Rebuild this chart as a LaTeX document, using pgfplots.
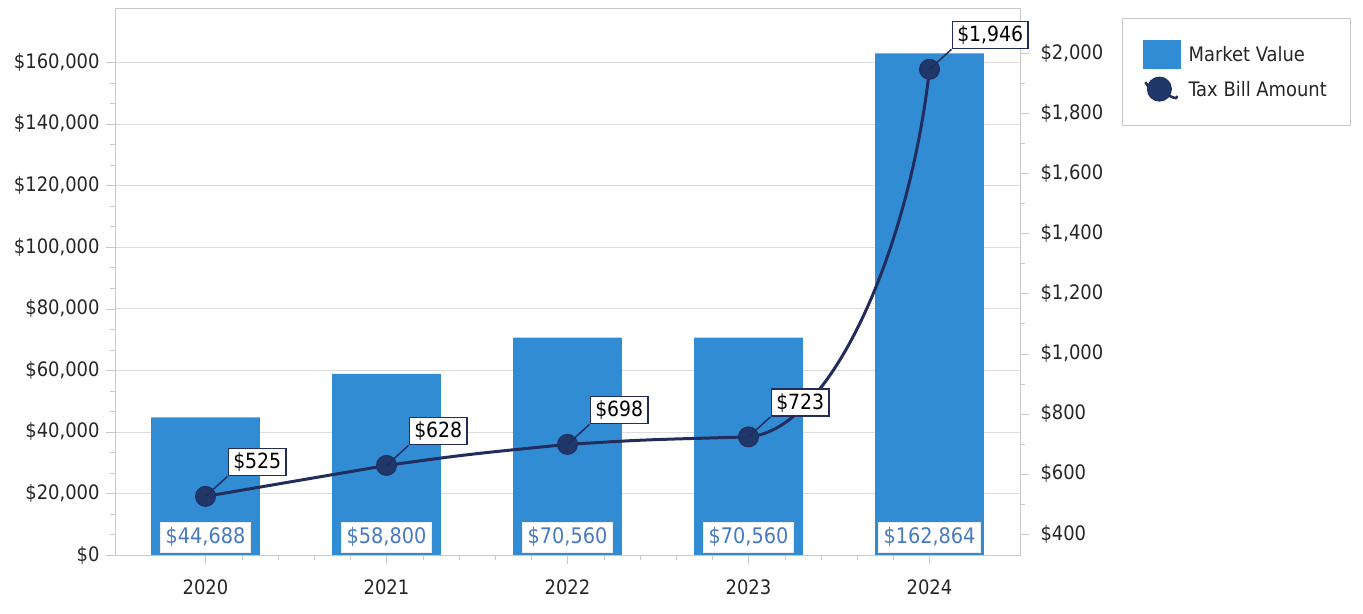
\documentclass[border=0pt]{standalone}
\usepackage{fontspec}
\setmainfont{DejaVu Sans Condensed}
\usepackage{pgfplots}
\pgfplotsset{compat=1.18}
\definecolor{barblue}{RGB}{50,140,212}
\definecolor{navy}{RGB}{33,45,92}
\definecolor{markfill}{RGB}{32,55,105}
\definecolor{lblblue}{RGB}{72,122,196}
\definecolor{gridgray}{RGB}{220,220,220}
\definecolor{axisgray}{RGB}{200,200,200}
\makeatletter
% curve handler: straight where the slope is steady, bending up where it jumps
\def\excel@none{none}
\def\pgfplothandlerexcel{%
  \def\pgf@plotstreamstart{%
    \global\let\pgf@plotstreampoint=\excel@first
    \global\let\pgf@plotstreamspecial=\pgfutil@gobble
    \global\let\pgf@plotstreamend=\relax
  }%
}
\def\excel@first#1{%
  \pgf@process{#1}%
  \xdef\excel@ax{\pgf@sys@tonumber\pgf@x}%
  \xdef\excel@ay{\pgf@sys@tonumber\pgf@y}%
  \gdef\excel@sp{none}%
  \pgf@plot@first@action{\pgfqpoint{\excel@ax pt}{\excel@ay pt}}%
  \global\let\pgf@plotstreampoint=\excel@next
}
\def\excel@next#1{%
  \pgf@process{#1}%
  \edef\excel@bx{\pgf@sys@tonumber\pgf@x}%
  \edef\excel@by{\pgf@sys@tonumber\pgf@y}%
  \pgfmathsetmacro\excel@dx{\excel@bx-\excel@ax}%
  \pgfmathsetmacro\excel@dy{\excel@by-\excel@ay}%
  \pgfmathsetmacro\excel@s{\excel@dy/\excel@dx}%
  \ifx\excel@sp\excel@none
    \def\excel@r{1}%
  \else
    \pgfmathsetmacro\excel@r{min(1.5,max(0,2*\excel@sp/(\excel@sp+\excel@s)))}%
  \fi
  \pgfmathsetmacro\excel@cax{\excel@ax+0.45*\excel@dx}%
  \pgfmathsetmacro\excel@cay{\excel@ay+0.45*\excel@r*\excel@dy}%
  \pgfmathsetmacro\excel@cbx{\excel@bx-(0.1+0.35*\excel@r)*\excel@dx}%
  \pgfmathsetmacro\excel@cby{\excel@by-(0.5-0.05*\excel@r)*\excel@dy}%
  \pgfpathcurveto{\pgfqpoint{\excel@cax pt}{\excel@cay pt}}%
                 {\pgfqpoint{\excel@cbx pt}{\excel@cby pt}}%
                 {\pgfqpoint{\excel@bx pt}{\excel@by pt}}%
  \xdef\excel@ax{\excel@bx}%
  \xdef\excel@ay{\excel@by}%
  \xdef\excel@sp{\excel@s}%
}
\tikzset{excel plot/.code={\let\tikz@plot@handler=\pgfplothandlerexcel}}
\makeatother
\begin{document}
\begin{tikzpicture}
\useasboundingbox (0,0) rectangle (1363bp,614bp);
\begin{axis}[
  at={(115bp,59bp)}, anchor=south west,
  width=905bp, height=547bp, scale only axis,
  font=\fontsize{20}{23}\selectfont,
  xmin=-0.5, xmax=4.5, ymin=0, ymax=177600,
  xtick={0,1,2,3,4}, xticklabels={2020,2021,2022,2023,2024},
  minor x tick num=4,
  ytick={0,20000,...,160000}, minor y tick num=2,
  scaled y ticks=false,
  yticklabel={\$\pgfmathprintnumber{\tick}},
  /pgf/number format/.cd, fixed, precision=0, 1000 sep={,}, assume math mode=true,
  /pgfplots/.cd,
  axis line style={axisgray},
  tick style={axisgray},
  tick align=outside,
  major tick length=9bp, minor tick length=5bp,
  ymajorgrids, major grid style={gridgray},
  xtick pos=bottom, ytick pos=left,
  xticklabel style={yshift=-12bp, text=black!85},
  yticklabel style={text=black!85, xshift=-3bp},
]
\addplot[ybar, bar width=0.6, fill=barblue, draw=none]
  coordinates {(0,44688) (1,58800) (2,70560) (3,70560) (4,162864)};
\addplot[draw=none, mark=none, point meta=explicit,
  nodes near coords={\$\pgfmathprintnumber[fixed,precision=0,1000 sep={,}]{\pgfplotspointmeta}},
  every node near coord/.append style={anchor=center, yshift=18bp,
     fill=white, draw=white!85!gray, text=lblblue, inner xsep=5bp, inner ysep=5bp,
     font=\fontsize{21.5}{24}\selectfont}]
  coordinates {(0,0) [44688] (1,0) [58800] (2,0) [70560] (3,0) [70560] (4,0) [162864]};
\end{axis}
\begin{axis}[
  at={(115bp,59bp)}, anchor=south west,
  width=905bp, height=547bp, scale only axis,
  font=\fontsize{20}{23}\selectfont,
  xmin=-0.5, xmax=4.5, ymin=330, ymax=2150,
  axis x line=none, axis y line*=right,
  ytick={400,600,...,2000}, minor y tick num=1,
  scaled y ticks=false,
  yticklabel={\$\pgfmathprintnumber{\tick}},
  /pgf/number format/.cd, fixed, precision=0, 1000 sep={,}, assume math mode=true,
  /pgfplots/.cd,
  axis line style={axisgray},
  tick style={axisgray},
  tick align=outside,
  major tick length=9bp, minor tick length=5bp,
  yticklabel style={text=black!85, xshift=8bp},
  legend style={at={(1.1127,0.9817)}, anchor=north west, draw=axisgray,
     inner xsep=21bp, inner ysep=22bp, row sep=8bp, column sep=6bp,
     font=\fontsize{20}{23}\selectfont, text=black!85},
  legend cell align=left,
]
\addlegendimage{legend image code/.code={\fill[barblue] (0bp,-14bp) rectangle (37bp,14bp);}}
\addlegendentry{Market Value}
\addplot[navy, line width=3bp, excel plot,
  mark=*, mark size=10bp, mark options={fill=markfill, draw=navy, line width=1bp},
  point meta=explicit,
  legend image code/.code={
     \draw[navy, line width=2.5bp] (2bp,8bp) to[out=-60,in=180] (20bp,-4bp) to[out=0,in=-90] (34bp,-6bp);
     \filldraw[fill=markfill, draw=navy, line width=1bp] (16bp,1bp) circle (12bp);},
  nodes near coords={\$\pgfmathprintnumber[fixed,precision=0,1000 sep={,}]{\pgfplotspointmeta}},
  every node near coord/.append style={anchor=south west, xshift=22bp, yshift=20bp,
     fill=white, draw=navy, line width=1.5bp, text=black, inner xsep=5bp, inner ysep=4bp,
     font=\fontsize{21}{24}\selectfont,
     append after command={(\tikzlastnode.south west) edge[draw=navy, line width=1.5bp] ++(-22bp,-20bp)}}]
  coordinates {(0,525) [525] (1,628) [628] (2,698) [698] (3,723) [723] (4,1946) [1946]};
\addlegendentry{Tax Bill Amount}
\end{axis}
\end{tikzpicture}
\end{document}
